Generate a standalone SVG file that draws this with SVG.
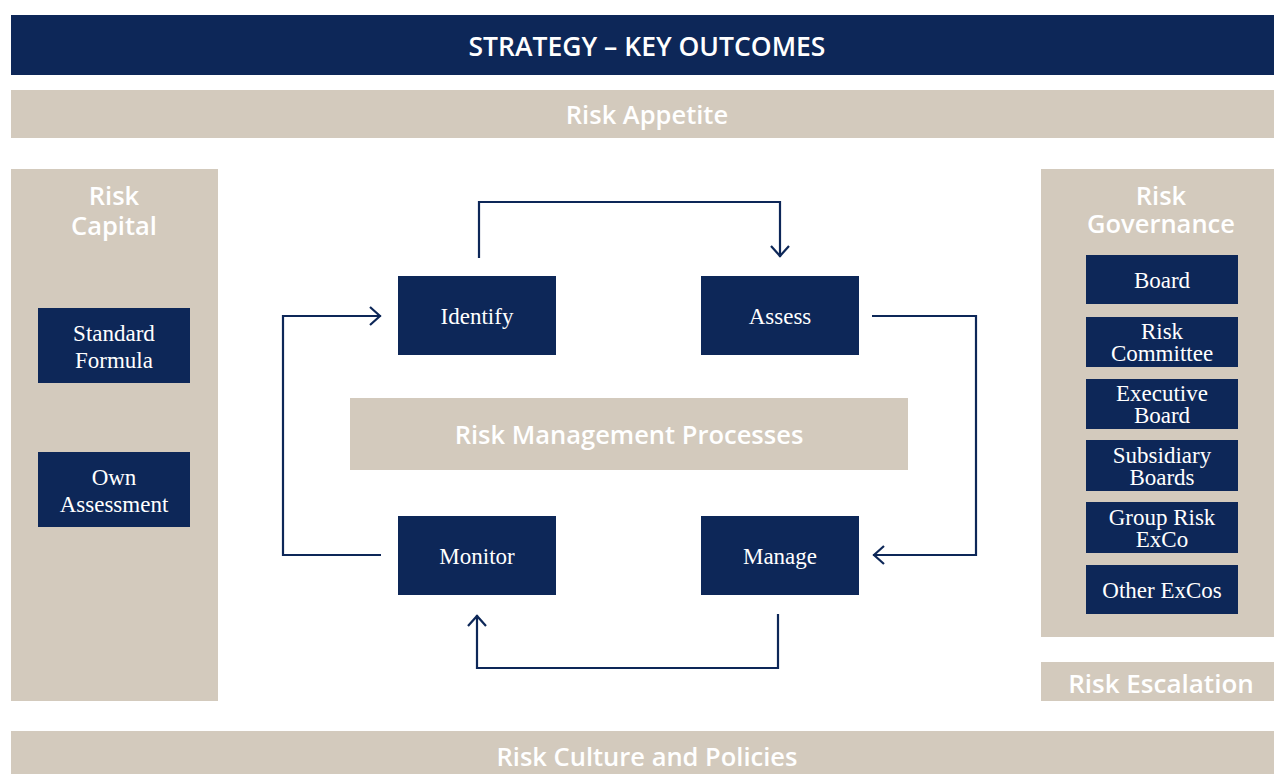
<svg xmlns="http://www.w3.org/2000/svg" width="1274" height="774" viewBox="0 0 1274 774">
<defs>
<style>
.navy{fill:#0d2758}
.beige{fill:#d3cabd}
.hd{font-family:"Open Sans","Noto Sans",sans-serif;font-weight:600;fill:#ffffff;text-anchor:middle}
.bx{font-family:"Liberation Serif","DejaVu Serif",serif;fill:#ffffff;text-anchor:middle;font-size:23px}
.conn{fill:none;stroke:#0d2758;stroke-width:2.2}
</style>
<marker id="ah" viewBox="0 0 14 20" refX="13" refY="10" markerWidth="14" markerHeight="20" markerUnits="userSpaceOnUse" orient="auto">
<path d="M2,1 L12,10 L2,19" fill="none" stroke="#0d2758" stroke-width="2.2"/>
</marker>
</defs>
<rect width="1274" height="774" fill="#ffffff"/>

<g id="title"><rect class="navy" x="11" y="15" width="1263" height="60"/><text class="hd" x="647" y="56" font-size="26.5" font-weight="700">STRATEGY – KEY OUTCOMES</text></g>
<g id="appetite"><rect class="beige" x="11" y="90" width="1263" height="48"/><text class="hd" x="647" y="124" font-size="25.5">Risk Appetite</text></g>

<g id="capital"><rect class="beige" x="11" y="169" width="207" height="532"/><text class="hd" x="114" y="205" font-size="25.5">Risk</text><text class="hd" x="114" y="235" font-size="25.5">Capital</text></g>
<g id="standard"><rect class="navy" x="38" y="308" width="152" height="75"/><text class="bx" x="114" y="341">Standard</text><text class="bx" x="114" y="368">Formula</text></g>
<g id="own"><rect class="navy" x="38" y="452" width="152" height="75"/><text class="bx" x="114" y="485">Own</text><text class="bx" x="114" y="512">Assessment</text></g>

<g id="governance"><rect class="beige" x="1041" y="169" width="233" height="468"/><text class="hd" x="1161" y="205" font-size="25.5">Risk</text><text class="hd" x="1161" y="233" font-size="25.5">Governance</text></g>
<g id="board"><rect class="navy" x="1086" y="255" width="152" height="49"/><text class="bx" x="1162" y="288">Board</text></g>
<g id="riskcomm"><rect class="navy" x="1086" y="317" width="152" height="50"/><text class="bx" x="1162" y="339">Risk</text><text class="bx" x="1162" y="361">Committee</text></g>
<g id="execboard"><rect class="navy" x="1086" y="379" width="152" height="50"/><text class="bx" x="1162" y="401">Executive</text><text class="bx" x="1162" y="423">Board</text></g>
<g id="subboards"><rect class="navy" x="1086" y="440" width="152" height="51"/><text class="bx" x="1162" y="463">Subsidiary</text><text class="bx" x="1162" y="485">Boards</text></g>
<g id="grouprisk"><rect class="navy" x="1086" y="502" width="152" height="51"/><text class="bx" x="1162" y="525">Group Risk</text><text class="bx" x="1162" y="547">ExCo</text></g>
<g id="otherexcos"><rect class="navy" x="1086" y="565" width="152" height="49"/><text class="bx" x="1162" y="598">Other ExCos</text></g>

<g id="escalation"><rect class="beige" x="1041" y="662" width="233" height="39"/><text class="hd" x="1161" y="693" font-size="26">Risk Escalation</text></g>
<g id="culture"><rect class="beige" x="11" y="731" width="1263" height="43"/><text class="hd" x="647" y="766" font-size="25.5">Risk Culture and Policies</text></g>

<g id="rmp"><rect class="beige" x="350" y="398" width="558" height="72"/><text class="hd" x="629" y="444" font-size="25.5">Risk Management Processes</text></g>

<g id="identify"><rect class="navy" x="398" y="276" width="158" height="79"/><text class="bx" x="477" y="324">Identify</text></g>
<g id="assess"><rect class="navy" x="701" y="276" width="158" height="79"/><text class="bx" x="780" y="324">Assess</text></g>
<g id="monitor"><rect class="navy" x="398" y="516" width="158" height="79"/><text class="bx" x="477" y="564">Monitor</text></g>
<g id="manage"><rect class="navy" x="701" y="516" width="158" height="79"/><text class="bx" x="780" y="564">Manage</text></g>

<g id="connectors">
<path class="conn" d="M479,258 V202 H780 V257" marker-end="url(#ah)"/>
<path class="conn" d="M872,316 H976 V555 H873" marker-end="url(#ah)"/>
<path class="conn" d="M778,614 V668 H477 V615" marker-end="url(#ah)"/>
<path class="conn" d="M381,555 H283 V316 H381" marker-end="url(#ah)"/>
</g>
</svg>
